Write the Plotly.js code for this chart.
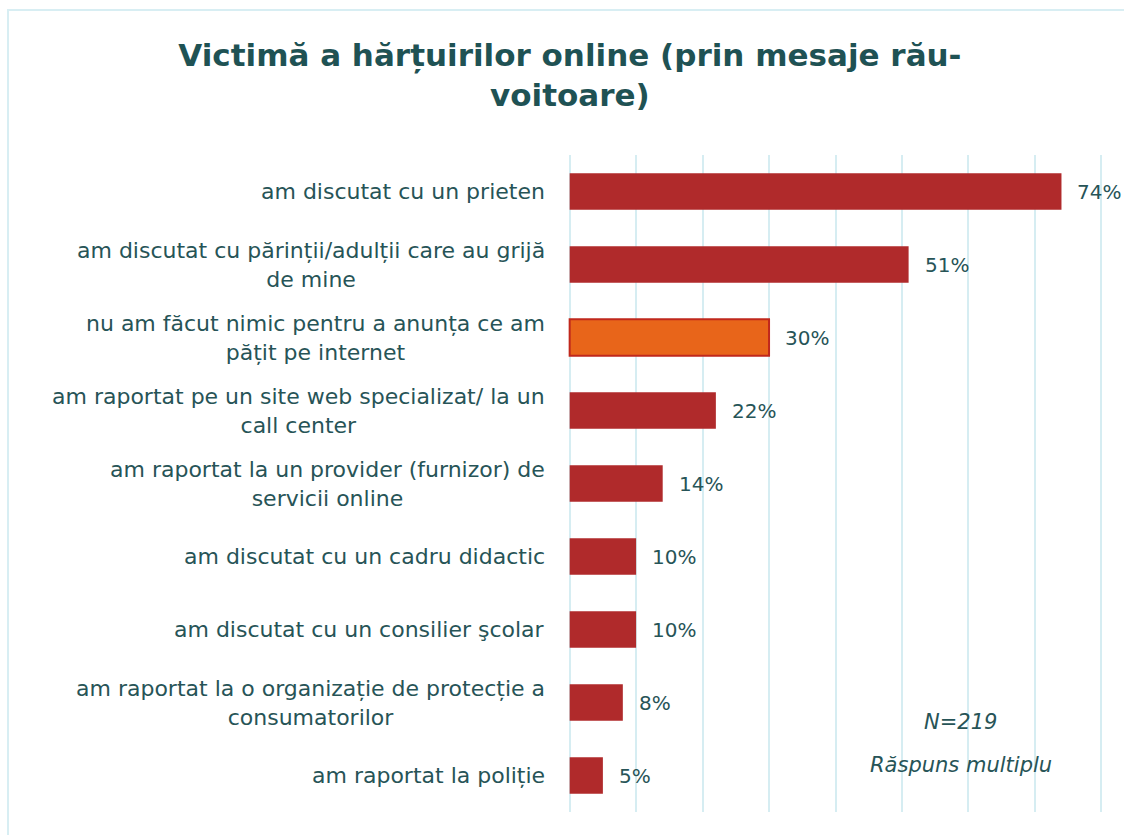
<!DOCTYPE html>
<html>
<head>
<meta charset="utf-8">
<script src="https://cdn.plot.ly/plotly-3.0.1.min.js"></script>
<style>
  html, body { margin: 0; padding: 0; background: #ffffff; }
  #frame { position: absolute; left: 7px; top: 9px; width: 1130px; height: 840px;
           border-left: 2px solid #D8EEF3; border-top: 2px solid #D8EEF3; z-index: 0; }
  #chart { position: absolute; left: 0; top: 0; width: 1124px; height: 835px; z-index: 1; }
</style>
</head>
<body>
<div id="frame"></div>
<div id="chart"></div>
<script>
const categories = [
  "am discutat cu un prieten",
  "am discutat cu părinții/adulții care au grijă<br>de mine",
  "nu am făcut nimic pentru a anunța ce am<br>pățit pe internet",
  "am raportat pe un site web specializat/ la un<br>call center",
  "am raportat la un provider (furnizor) de<br>servicii online",
  "am discutat cu un cadru didactic",
  "am discutat cu un consilier şcolar",
  "am raportat la o organizație de protecție a<br>consumatorilor",
  "am raportat la poliție"
];
const values = [74, 51, 30, 22, 14, 10, 10, 8, 5];
const valueLabels = ["74%", "51%", "30%", "22%", "14%", "10%", "10%", "8%", "5%"];
const highlightIndex = 2;
const titleText = "Victimă a hărțuirilor online (prin mesaje rău-<br>voitoare)";
const noteLines = ["N=219", "Răspuns multiplu"];

const textColor = "#275457";
const barColor = "#B02A2B";
const highlightColor = "#E8651A";

const colors = values.map((v, i) => i === highlightIndex ? highlightColor : barColor);
const lineColors = values.map((v, i) => i === highlightIndex ? "#C0281C" : barColor);
const lineWidths = values.map((v, i) => i === highlightIndex ? 2 : 0);

const trace = {
  type: "bar",
  orientation: "h",
  y: categories,
  x: values,
  marker: { color: colors, line: { color: lineColors, width: lineWidths } },
  width: 0.5,
  hoverinfo: "skip"
};

const annotations = [];
categories.forEach((c, i) => {
  annotations.push({
    xref: "paper", yref: "y", x: 0, y: c, xanchor: "right", yanchor: "middle",
    xshift: -20, text: c, align: "center", showarrow: false,
    font: { family: "DejaVu Sans", size: 22, color: textColor }
  });
  annotations.push({
    xref: "x", yref: "y", x: values[i], y: c, xanchor: "left", yanchor: "middle",
    xshift: 14, text: valueLabels[i], showarrow: false,
    font: { family: "DejaVu Sans", size: 20, color: textColor }
  });
});
annotations.push({
  xref: "paper", yref: "paper", x: 0.733, y: 0.137, xanchor: "center", yanchor: "middle",
  text: "<i>" + noteLines[0] + "</i>", showarrow: false,
  font: { family: "DejaVu Sans", size: 21, color: textColor }
});
annotations.push({
  xref: "paper", yref: "paper", x: 0.733, y: 0.0715, xanchor: "center", yanchor: "middle",
  text: "<i>" + noteLines[1] + "</i>", showarrow: false,
  font: { family: "DejaVu Sans", size: 21, color: textColor }
});

const layout = {
  width: 1124, height: 835,
  margin: { l: 567, r: 20, t: 155, b: 23 },
  paper_bgcolor: "rgba(0,0,0,0)",
  plot_bgcolor: "rgba(0,0,0,0)",
  showlegend: false,
  title: {
    text: titleText, xref: "container", x: 0.507, xanchor: "center",
    yref: "container", y: 0.921, yanchor: "top",
    font: { family: "DejaVu Sans", size: 31, color: "#1F5254", weight: "bold" }
  },
  xaxis: {
    range: [-0.4, 80.4], dtick: 10, tick0: 0, showgrid: true, gridcolor: "#D6EDF2", gridwidth: 2,
    zeroline: false, showticklabels: false, ticks: "", showline: false, fixedrange: true
  },
  yaxis: {
    categoryorder: "array", categoryarray: categories, autorange: "reversed",
    showticklabels: false, ticks: "", showgrid: false, zeroline: false, showline: false
  },
  shapes: [{
    type: "rect", xref: "x", yref: "paper", x0: 39.3, x1: 79.0, y0: 0.018, y1: 0.178,
    fillcolor: "#ffffff", line: { width: 0 }, layer: "between"
  }],
  annotations: annotations
};

Plotly.newPlot("chart", [trace], layout, { displayModeBar: false, staticPlot: true });
</script>
</body>
</html>
